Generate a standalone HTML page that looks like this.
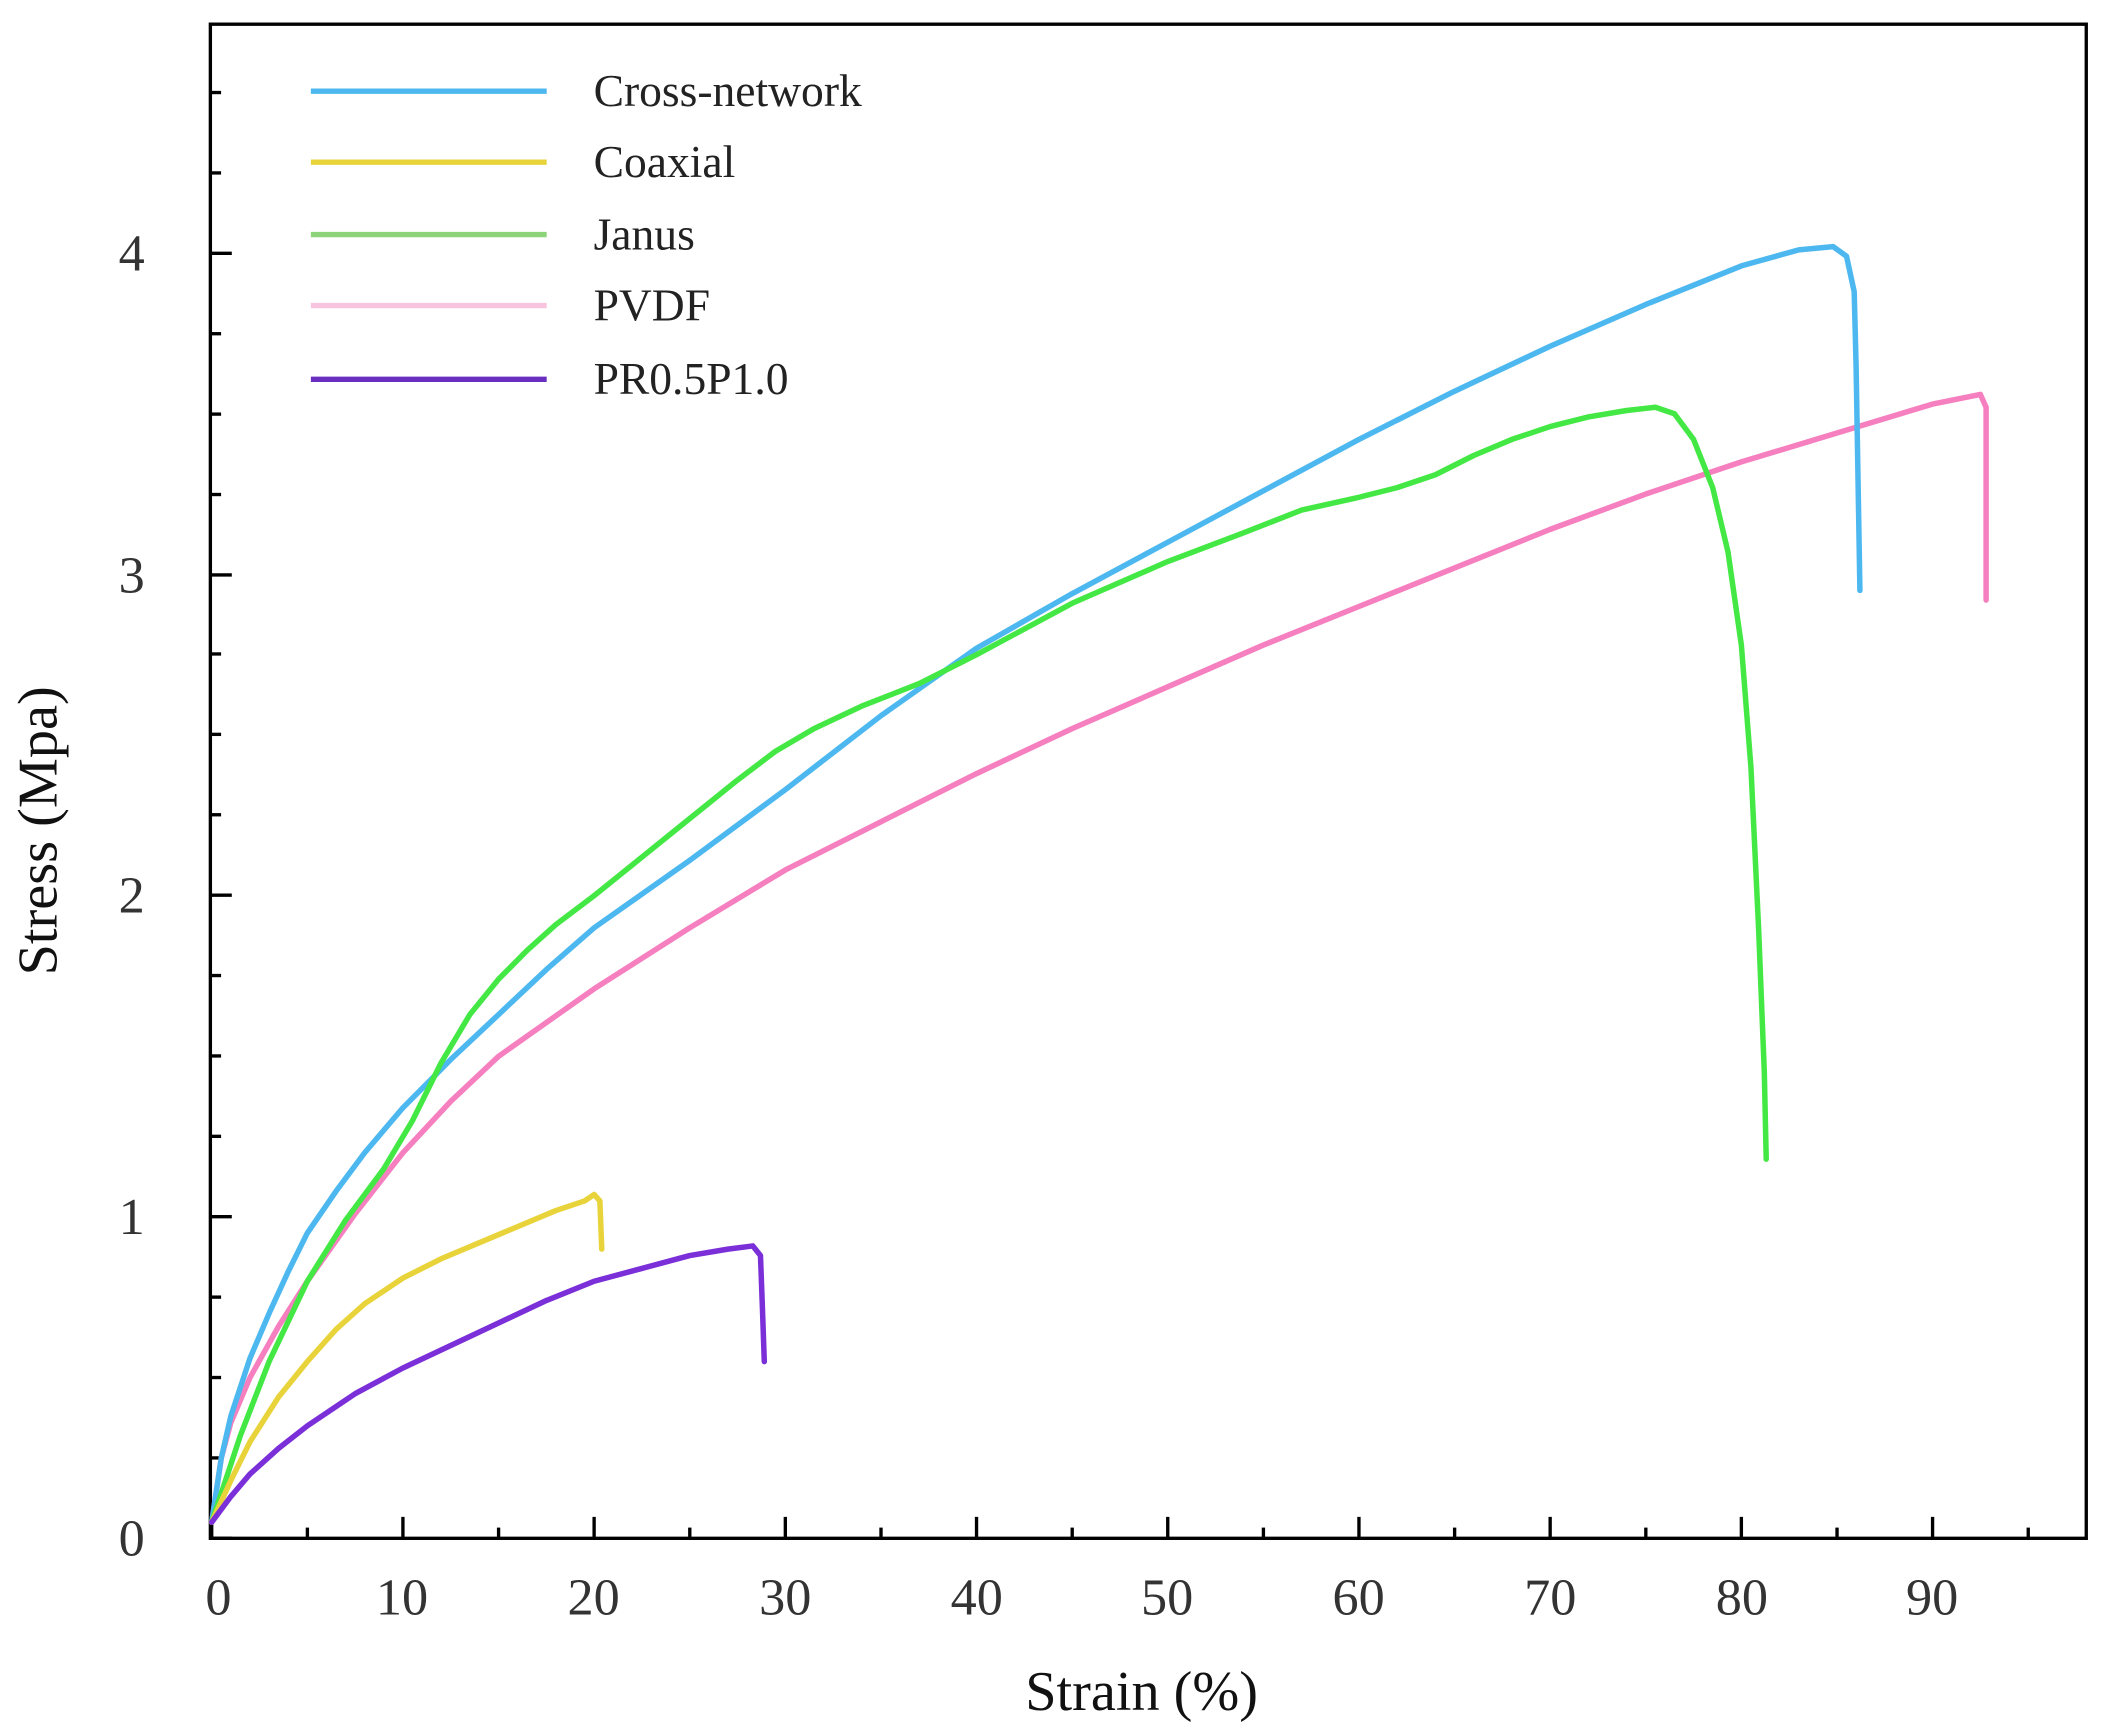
<!DOCTYPE html>
<html><head><meta charset="utf-8"><style>
html,body{margin:0;padding:0;background:#fff;}
svg{display:block;}
text{font-family:"Liberation Serif",serif;}
</style></head><body>
<svg width="2101" height="1730" viewBox="0 0 1568 1291" xmlns="http://www.w3.org/2000/svg">
<rect x="0" y="0" width="1568" height="1291" fill="#fff"/>
<rect x="157" y="18" width="1400" height="1130" fill="none" stroke="#000" stroke-width="2.5"/>
<g stroke="#000" stroke-width="2.5">
<line x1="158.0" y1="1148" x2="158.0" y2="1132"/><line x1="229.4" y1="1148" x2="229.4" y2="1140"/>
<line x1="300.7" y1="1148" x2="300.7" y2="1132"/><line x1="372.1" y1="1148" x2="372.1" y2="1140"/>
<line x1="443.4" y1="1148" x2="443.4" y2="1132"/><line x1="514.8" y1="1148" x2="514.8" y2="1140"/>
<line x1="586.1" y1="1148" x2="586.1" y2="1132"/><line x1="657.5" y1="1148" x2="657.5" y2="1140"/>
<line x1="728.8" y1="1148" x2="728.8" y2="1132"/><line x1="800.2" y1="1148" x2="800.2" y2="1140"/>
<line x1="871.5" y1="1148" x2="871.5" y2="1132"/><line x1="942.9" y1="1148" x2="942.9" y2="1140"/>
<line x1="1014.2" y1="1148" x2="1014.2" y2="1132"/><line x1="1085.6" y1="1148" x2="1085.6" y2="1140"/>
<line x1="1156.9" y1="1148" x2="1156.9" y2="1132"/><line x1="1228.3" y1="1148" x2="1228.3" y2="1140"/>
<line x1="1299.6" y1="1148" x2="1299.6" y2="1132"/><line x1="1371.0" y1="1148" x2="1371.0" y2="1140"/>
<line x1="1442.3" y1="1148" x2="1442.3" y2="1132"/><line x1="1513.7" y1="1148" x2="1513.7" y2="1140"/>
<line x1="157" y1="1148" x2="173" y2="1148"/>
<line x1="157" y1="1088" x2="165" y2="1088"/><line x1="157" y1="1028" x2="165" y2="1028"/><line x1="157" y1="968" x2="165" y2="968"/>
<line x1="157" y1="908" x2="173" y2="908"/>
<line x1="157" y1="848" x2="165" y2="848"/><line x1="157" y1="788" x2="165" y2="788"/><line x1="157" y1="728" x2="165" y2="728"/>
<line x1="157" y1="668" x2="173" y2="668"/>
<line x1="157" y1="608" x2="165" y2="608"/><line x1="157" y1="548" x2="165" y2="548"/><line x1="157" y1="488" x2="165" y2="488"/>
<line x1="157" y1="429" x2="173" y2="429"/>
<line x1="157" y1="369" x2="165" y2="369"/><line x1="157" y1="309" x2="165" y2="309"/><line x1="157" y1="249" x2="165" y2="249"/>
<line x1="157" y1="189" x2="173" y2="189"/>
<line x1="157" y1="129" x2="165" y2="129"/><line x1="157" y1="69" x2="165" y2="69"/>
</g>
<g font-size="39" fill="#333" text-anchor="middle">
<text x="163" y="1205">0</text><text x="300" y="1205">10</text><text x="443" y="1205">20</text>
<text x="586" y="1205">30</text><text x="729" y="1205">40</text><text x="871" y="1205">50</text>
<text x="1014" y="1205">60</text><text x="1157" y="1205">70</text><text x="1300" y="1205">80</text>
<text x="1442" y="1205">90</text>
</g>
<g font-size="39" fill="#333" text-anchor="end">
<text x="108" y="1161">0</text><text x="108" y="921">1</text><text x="108" y="681">2</text>
<text x="108" y="442">3</text><text x="108" y="202">4</text>
</g>
<text x="852" y="1276" font-size="42" text-anchor="middle" fill="#111">Strain (%)</text>
<text transform="translate(42,620) rotate(-90)" font-size="42" text-anchor="middle" fill="#111">Stress (Mpa)</text>
<g stroke-width="4">
<line x1="232" y1="68" x2="408" y2="68" stroke="#4db8f0"/>
<line x1="232" y1="121" x2="408" y2="121" stroke="#e8d43a"/>
<line x1="232" y1="175" x2="408" y2="175" stroke="#8cd47a"/>
<line x1="232" y1="228" x2="408" y2="228" stroke="#f9c4e0"/>
<line x1="232" y1="283" x2="408" y2="283" stroke="#6a2fc0"/>
</g>
<g font-size="34" fill="#222">
<text x="443" y="79">Cross-network</text><text x="443" y="132">Coaxial</text>
<text x="443" y="186">Janus</text><text x="443" y="239">PVDF</text><text x="443" y="294">PR0.5P1.0</text>
</g>
<g transform="translate(158,1148) scale(14.27,-239.8)" fill="none" stroke-linejoin="round" stroke-linecap="round">
<polyline vector-effect="non-scaling-stroke" stroke-width="5.5" stroke="#f57fbf" points="0,0.05 0.5,0.25 1,0.36 2,0.5 3.5,0.66 5,0.8 7.5,1.01 10,1.2 12.5,1.36 15,1.5 20,1.71 25,1.9 30,2.08 35,2.23 40,2.38 45,2.52 50,2.65 55,2.78 60,2.9 65,3.02 70,3.14 75,3.25 80,3.35 85,3.44 90,3.53 92.5,3.56 92.8,3.52 92.8,2.92"/>
<polyline vector-effect="non-scaling-stroke" stroke-width="5.5" stroke="#4db8f0" points="0,0.05 0.5,0.25 1,0.38 2,0.56 3,0.7 4,0.83 5,0.95 6.5,1.08 8,1.2 10,1.34 12.5,1.49 15,1.63 17.5,1.77 20,1.9 25,2.11 30,2.33 35,2.56 40,2.77 45,2.94 50,3.1 55,3.26 60,3.42 65,3.57 70,3.71 75,3.84 80,3.96 83,4.01 84.8,4.02 85.5,3.99 85.9,3.88 86.0,3.65 86.2,2.95"/>
<polyline vector-effect="non-scaling-stroke" stroke-width="5.5" stroke="#44e844" points="0,0.05 1.5,0.32 3,0.55 5,0.8 7,0.99 9,1.15 10.5,1.3 12,1.48 13.5,1.63 15,1.74 16.5,1.83 18,1.91 20,2.0 22.5,2.12 25,2.24 27.5,2.36 29.5,2.45 31.5,2.52 34,2.59 37,2.66 40,2.75 45,2.91 50,3.04 54,3.13 57,3.2 60,3.24 62,3.27 64,3.31 66,3.37 68,3.42 70,3.46 72,3.49 74,3.51 75.5,3.52 76.5,3.5 77.5,3.42 78.5,3.27 79.3,3.07 80,2.78 80.5,2.4 80.9,1.9 81.2,1.45 81.3,1.18"/>
<polyline vector-effect="non-scaling-stroke" stroke-width="5.5" stroke="#e8d43a" points="0,0.05 1,0.18 2,0.3 3.5,0.44 5,0.55 6.5,0.65 8,0.73 10,0.81 12,0.87 14,0.92 16,0.97 18,1.02 19.5,1.05 20,1.07 20.3,1.05 20.4,0.9"/>
<polyline vector-effect="non-scaling-stroke" stroke-width="5.5" stroke="#7b2fd8" points="0,0.05 1,0.13 2,0.2 3.5,0.28 5,0.35 7.5,0.45 10,0.53 12.5,0.6 15,0.67 17.5,0.74 20,0.8 22.5,0.84 25,0.88 27,0.9 28.3,0.91 28.7,0.88 28.8,0.72 28.9,0.55"/>
</g>
</svg>
</body></html>
